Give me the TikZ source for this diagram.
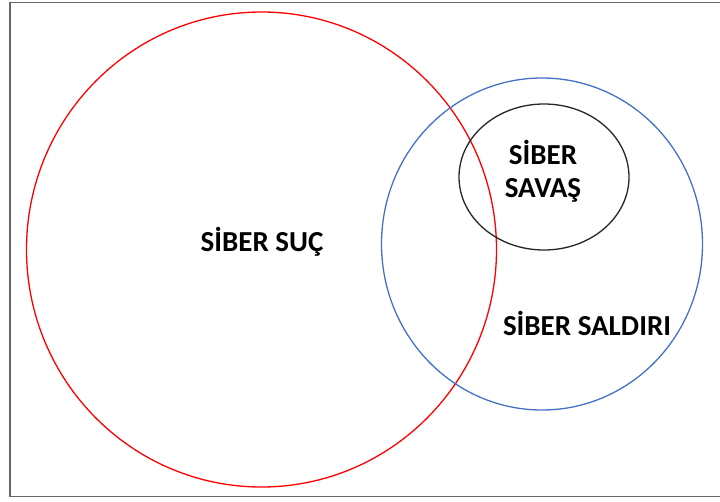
\documentclass[tikz,border=0pt]{standalone}
\usepackage{fontspec}
\setmainfont{Carlito}
\definecolor{setblue}{HTML}{4472C4}
\begin{document}
\begin{tikzpicture}[x=1pt,y=-1pt,
  frame/.style={draw=black!60,line width=1.2pt},
  setline/.style={line width=1.3pt},
  label/.style={font=\bfseries\fontsize{29}{33}\selectfont,align=center,inner sep=0pt}]
  \useasboundingbox (0,0) rectangle (720,501);
  % outer frame
  \draw[frame] (10,2.5) rectangle (722,496.5);
  % the three sets
  \draw[setline,draw=red] (261.5,249.5) ellipse [x radius=235, y radius=237.5];
  \draw[setline,draw=setblue] (542,244) ellipse [x radius=160.5, y radius=166];
  \draw[setline,draw=black!85] (544,177) ellipse [x radius=85, y radius=73];
  % set names
  \node[label] (crime) at (262,242) {SİBER SUÇ};
  \node[label] (war) at (543,171) {SİBER\\SAVAŞ};
  \node[label] (attack) at (587,323) {SİBER SALDIRI};
\end{tikzpicture}
\end{document}
